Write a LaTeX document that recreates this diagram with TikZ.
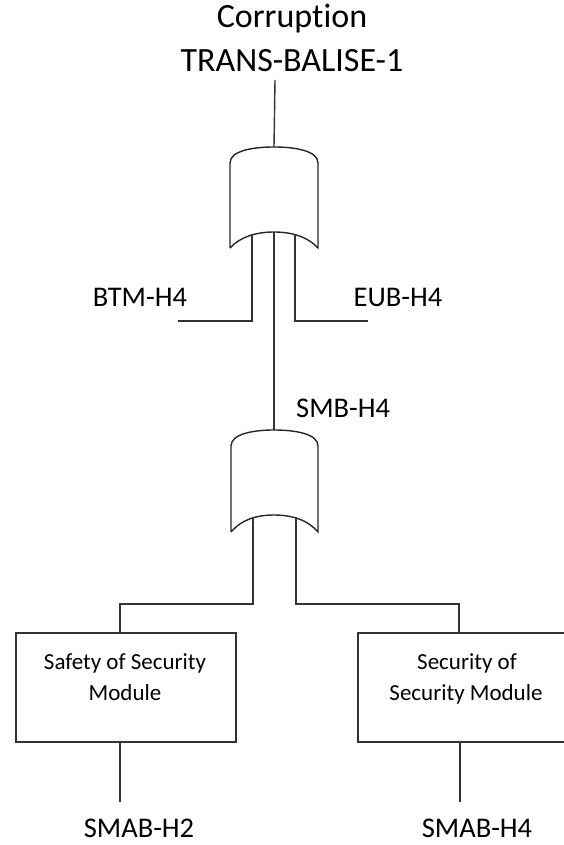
\documentclass[tikz,border=0pt]{standalone}
\usepackage{fontspec}
\setmainfont[Ligatures=NoCommon]{Carlito}
\begin{document}
\begin{tikzpicture}[x=1pt,y=-1pt,
  wire/.style={draw=black!80,line width=1.4pt},
  gateshape/.style={draw=black!85,line width=1.4pt},
  title/.style={font=\fontsize{34}{40}\selectfont,anchor=base,inner sep=0pt},
  lbl/.style={font=\fontsize{28.5}{34}\selectfont,anchor=base,inner sep=0pt},
  modbox/.style={draw=black!80,line width=1.4pt,minimum width=220pt,minimum height=109pt,inner sep=0pt},
  modtxt/.style={font=\fontsize{23}{31}\selectfont,align=center,anchor=base,inner sep=0pt}]
\useasboundingbox (0,0) rectangle (563,845);

% top event
\node[title] (top1) at (292,28) {Corruption};
\node[title] (top2) at (292,72) {TRANS-BALISE-1};
\coordinate (topend) at (275,80);

% upper OR gate
\coordinate (g1top) at (274,147);
\coordinate (g1bot) at (274,232);
\draw[gateshape] (230,248) -- (230,163) .. controls (230,151) and (252,147) .. (g1top)
  .. controls (296,147) and (318,151) .. (318,163) -- (318,248)
  .. controls (308,237) and (292,232) .. (g1bot)
  .. controls (256,232) and (240,237) .. (230,248);
\coordinate (g1inL) at (252,233.5);
\coordinate (g1inR) at (295,233.5);
\coordinate (btmend) at (178,321);
\coordinate (eubend) at (368,321);
\node[lbl] (btm) at (140,306) {BTM-H4};
\node[lbl] (eub) at (398,306) {EUB-H4};

% lower OR gate
\coordinate (g2top) at (274,430);
\coordinate (g2bot) at (274,515);
\draw[gateshape] (231,532) -- (231,446) .. controls (231,434) and (253,430) .. (g2top)
  .. controls (296,430) and (318,434) .. (318,446) -- (318,532)
  .. controls (308,520) and (292,515) .. (g2bot)
  .. controls (256,515) and (241,520) .. (231,532);
\coordinate (g2inL) at (253,516.5);
\coordinate (g2inR) at (296,516.5);
\node[lbl,anchor=base west] (smb) at (296,417) {SMB-H4};

% basic modules
\node[modbox] (safety) at (126,687.5) {};
\node[modbox] (security) at (468,687.5) {};
\node[modtxt] at (125,669) {Safety of Security};
\node[modtxt] at (125,700) {Module};
\node[modtxt] at (467,669) {Security of};
\node[modtxt] at (466,700) {Security Module};
\node[lbl] (smab2) at (139,837) {SMAB-H2};
\node[lbl] (smab4) at (477,837) {SMAB-H4};
\coordinate (sfend) at (120,802);
\coordinate (scend) at (460,802);

% connectors
\draw[wire] (topend) -- (g1top);
\draw[wire] (g1bot) -- (g2top);
\draw[wire] (g1inL) |- (btmend);
\draw[wire] (g1inR) |- (eubend);
\draw[wire] (g2inL) -- (253,604) -| (safety.north -| 120,0);
\draw[wire] (g2inR) -- (296,604) -| (security.north -| 459,0);
\draw[wire] (safety.south -| 120,0) -- (sfend);
\draw[wire] (security.south -| 460,0) -- (scend);
\end{tikzpicture}
\end{document}
